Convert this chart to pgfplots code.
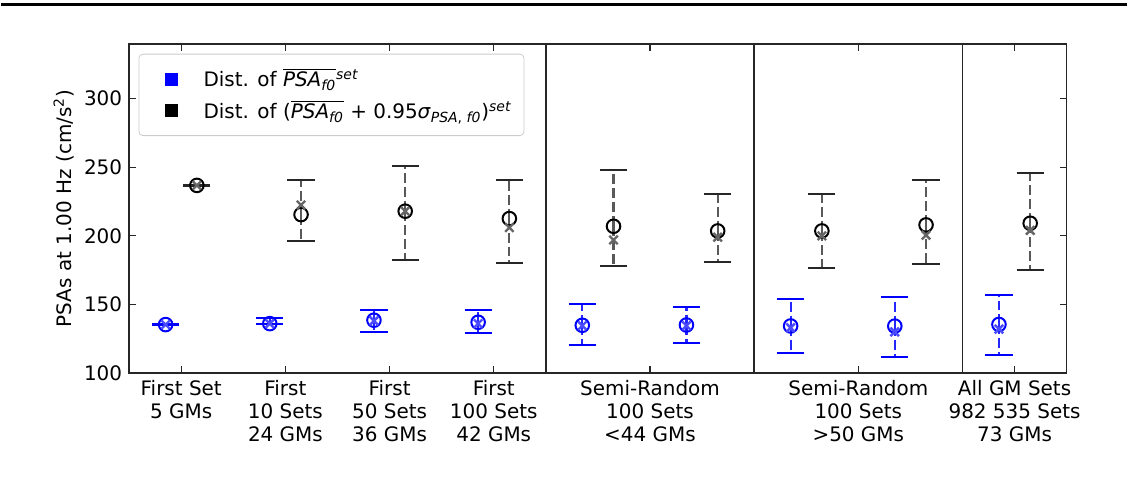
\documentclass[border=0pt]{standalone}
\usepackage{fontspec}
\setmainfont{DejaVu Sans}
\usepackage{pgfplots}
\pgfplotsset{compat=1.18}
\usepackage{pgfplotstable}

% x  y(circle)  ep  em  xm (x-marker value)
\pgfplotstableread{
x     y      ep    em    xm
-0.15 135.3  0.3   0.5   135.3
0.85  136.0  3.8   0.5   136.0
1.85  138.5  7.8   8.9   138.0
2.85  137.0  9.0   8.0   136.0
3.85  134.8  15.2  14.1  134.5
4.85  135.0  12.8  13.4  134.5
5.85  134.3  19.7  19.4  133.0
6.85  134.2  21.3  22.7  130.0
7.85  135.4  21.6  22.4  132.0
}\bluedata

\pgfplotstableread{
x     y      ep    em    xm
0.15  236.8  0.4   0.3   236.8
1.15  215.5  24.9  18.9  222.5
2.15  218.0  32.8  35.4  218.0
3.15  212.6  28.4  32.2  206.0
4.15  207.0  40.7  29.0  197.0
5.15  203.6  26.7  23.0  199.0
6.15  203.6  27.2  27.1  200.0
7.15  208.0  32.4  28.5  200.5
8.15  209.2  36.3  34.2  204.0
}\blackdata

\begin{document}
\begin{tikzpicture}
\path (0,0) rectangle (564pt,240pt);
\draw[line width=1.5pt] (0,237.5pt) -- (564pt,237.5pt);
\begin{axis}[
  at={(64pt,53pt)}, anchor=south west,
  scale only axis, width=470pt, height=165pt,
  xmin=-0.5, xmax=8.5, ymin=100, ymax=340,
  xtick={0,1,2,3,4.5,6.5,8},
  xticklabels={{First Set\\5 GMs},{First\\10 Sets\\24 GMs},{First\\50 Sets\\36 GMs},{First\\100 Sets\\42 GMs},{Semi-Random\\100 Sets\\<44 GMs},{Semi-Random\\100 Sets\\>50 GMs},{All GM Sets\\982 535 Sets\\73 GMs}},
  ytick={100,150,200,250,300},
  tick align=inside,
  major tick length=3.5pt,
  tick style={black!85, line width=0.6pt},
  axis line style={black!85, line width=0.7pt},
  /pgf/number format/assume math mode=true,
  xticklabel style={align=center, font=\fontsize{10}{11.5}\selectfont},
  yticklabel style={font=\fontsize{10}{12}\selectfont},
  ylabel={PSAs at 1.00 Hz (cm/s\textsuperscript{2})},
  ylabel style={font=\fontsize{10}{12}\selectfont, at={(axis description cs:-0.07,0.5)}, anchor=center},
  legend style={at={(0.01,0.97)}, anchor=north west, draw=black!20, rounded corners=2pt,
    fill=white, font=\fontsize{10}{12}\selectfont, row sep=1pt, inner xsep=4pt, inner ysep=5pt},
  legend cell align=left,
  legend image code/.code={\path (0pt,0pt) (26pt,0pt); \draw[#1] plot coordinates {(12pt,0)};},
]
\addlegendimage{only marks, mark=square*, mark size=3pt, blue}
\addlegendentry{Dist. of $\overline{\hbox{\textit{PSA}\textsubscript{\textit{f0}}}}$\textsuperscript{\textit{set}}}
\addlegendimage{only marks, mark=square*, mark size=3pt, black}
\addlegendentry{Dist. of ($\overline{\hbox{\textit{PSA}\textsubscript{\textit{f0}}}}$ + 0.95\textit{σ}\textsubscript{\textit{PSA}, \textit{f0}})\textsuperscript{\textit{set}}}

\addplot[black!85, line width=0.7pt, forget plot] coordinates {(3.5,100) (3.5,340)};
\addplot[black!85, line width=0.7pt, forget plot] coordinates {(5.5,100) (5.5,340)};
\addplot[black!85, line width=0.7pt, forget plot] coordinates {(7.5,100) (7.5,340)};

\addplot[blue, only marks, mark=o, mark size=3.4pt, line width=1pt, forget plot,
  error bars/.cd, y dir=both, y explicit,
  error bar style={blue!85, line width=1.1pt, dash pattern=on 5pt off 2pt},
  error mark options={solid, blue, line width=1pt, mark size=6.8pt, rotate=90}]
  table[x=x, y=y, y error plus=ep, y error minus=em] {\bluedata};
\addplot[blue!70, only marks, mark=x, mark size=3pt, line width=1.2pt, forget plot]
  table[x=x, y=xm] {\bluedata};

\addplot[black, only marks, mark=o, mark size=3.4pt, line width=1pt, forget plot,
  error bars/.cd, y dir=both, y explicit,
  error bar style={black!65, line width=1.1pt, dash pattern=on 5pt off 2pt},
  error mark options={solid, black!85, line width=1pt, mark size=6.8pt, rotate=90}]
  table[x=x, y=y, y error plus=ep, y error minus=em] {\blackdata};
\addplot[black!60, only marks, mark=x, mark size=3pt, line width=1.2pt, forget plot]
  table[x=x, y=xm] {\blackdata};
\end{axis}
\end{tikzpicture}
\end{document}
